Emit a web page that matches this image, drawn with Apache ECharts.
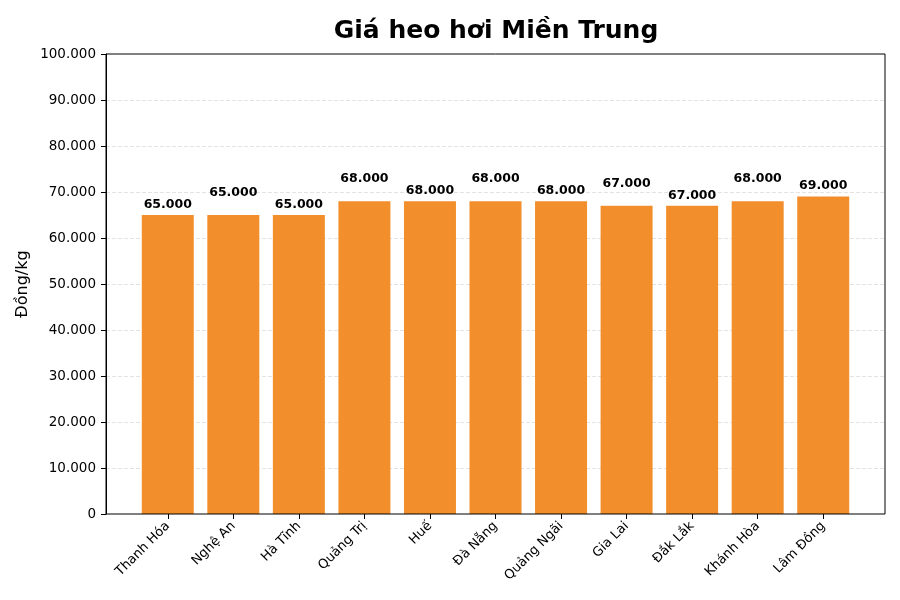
<!DOCTYPE html>
<html><head><meta charset="utf-8">
<script src="https://cdn.jsdelivr.net/npm/echarts@6/dist/echarts.min.js"></script>
<style>html,body{margin:0;padding:0;background:#fff}#c{width:900px;height:600px}</style>
</head><body><div id="c"></div>
<script>
const categories = ['Thanh Hóa','Nghệ An','Hà Tĩnh','Quảng Trị','Huế','Đà Nẵng','Quảng Ngãi','Gia Lai','Đắk Lắk','Khánh Hòa','Lâm Đồng'];
const prices = [65000,65000,65000,68000,68000,68000,68000,67000,67000,68000,69000];
const yTicks = [0,10000,20000,30000,40000,50000,60000,70000,80000,90000,100000];

const font = 'DejaVu Sans';
function fmt(v){ return String(Math.round(v)).replace(/\B(?=(\d{3})+(?!\d))/g,'.'); }

const chart = echarts.init(document.getElementById('c'), null, {renderer:'canvas'});
chart.setOption({
  animation:false,
  backgroundColor:'#fff',
  title:{text:'Giá heo hơi Miền Trung', left:491, top:14, textAlign:'center',
    textStyle:{fontFamily:font, fontSize:25, fontWeight:'bold', color:'#000'}},
  grid:[
    {left:106, right:15, top:54, bottom:86, show:true, borderColor:'#000', borderWidth:1, backgroundColor:'transparent', z:10},
    {left:135, right:44, top:54, bottom:86}
  ],
  xAxis:[
    {gridIndex:0, type:'value', min:0, max:1, show:false},
    {gridIndex:1, type:'category', data:categories,
      axisLine:{show:false},
      axisTick:{show:true, alignWithLabel:true, length:5, lineStyle:{color:'#000'}},
      axisLabel:{rotate:45, fontFamily:font, fontSize:13, color:'#000', margin:10, interval:0}}
  ],
  yAxis:[
    {gridIndex:0, type:'value', min:yTicks[0], max:yTicks[yTicks.length-1], interval:10000,
      name:'Đồng/kg', nameLocation:'middle', nameGap:75, nameRotate:90, nameMoveOverlap:false,
      nameTextStyle:{fontFamily:font, fontSize:16, color:'#000'},
      axisLine:{show:true, lineStyle:{color:'#000'}},
      axisTick:{show:true, length:5, lineStyle:{color:'#000'}},
      axisLabel:{fontFamily:font, fontSize:13.5, color:'#000', margin:10, formatter:fmt},
      splitLine:{show:true, showMinLine:false, showMaxLine:false, lineStyle:{color:'#dcdcdc', type:[4,2], width:0.8}}},
    {gridIndex:1, type:'value', min:0, max:100000, show:false, splitLine:{show:false}}
  ],
  series:[{
    type:'bar', xAxisIndex:1, yAxisIndex:1,
    barWidth:52,
    itemStyle:{color:'#F28E2B'},
    data: prices.map((v,i)=>({value:v, label:{distance: i%2===0 ? 4 : 16}})),
    label:{show:true, position:'top', fontFamily:font, fontSize:12.5, fontWeight:'bold', color:'#000', formatter:p=>fmt(p.value)}
  }]
});
</script></body></html>
